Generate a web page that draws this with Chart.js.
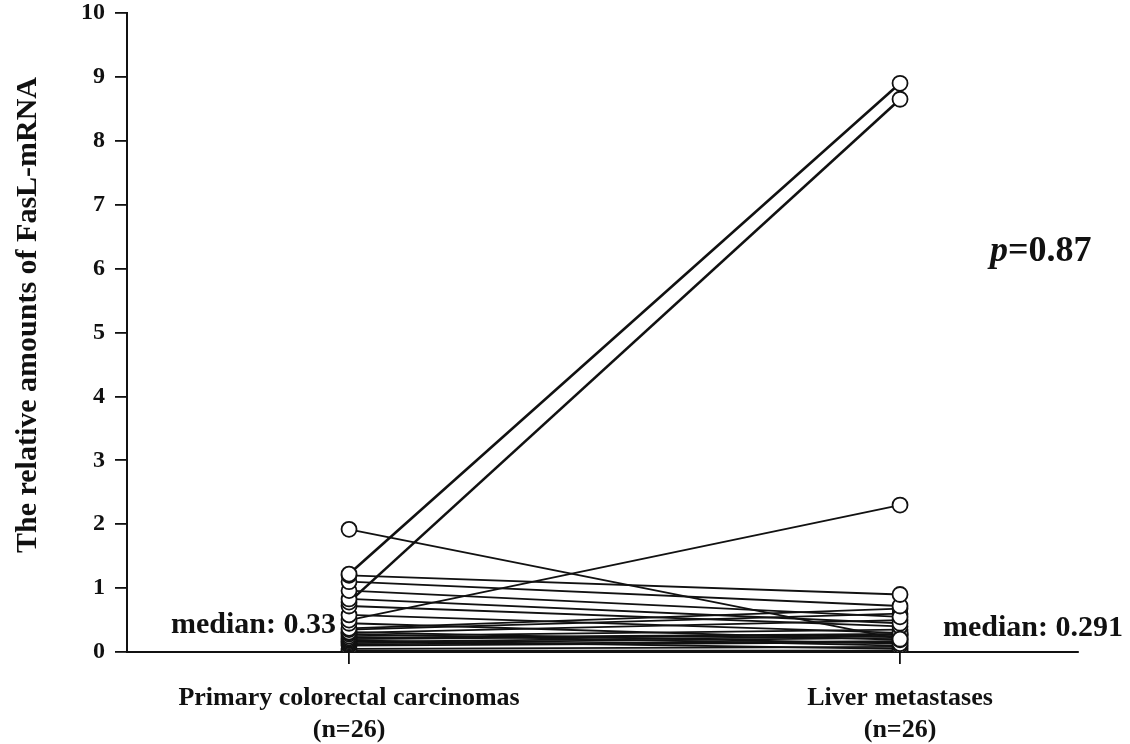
<!DOCTYPE html>
<html>
<head>
<meta charset="utf-8">
<script src="https://cdn.jsdelivr.net/npm/chart.js@4"></script>
<style>
  html, body { margin: 0; padding: 0; background: #fff; }
  #wrap { width: 1130px; height: 744px; position: relative; }
</style>
</head>
<body>
<div id="wrap"><canvas id="c"></canvas></div>
<script>
const CATEGORIES = [["Primary colorectal carcinomas", "(n=26)"], ["Liver metastases", "(n=26)"]];
const Y_TICKS = [0, 1, 2, 3, 4, 5, 6, 7, 8, 9, 10];
// paired samples: primaryValues[i] -> liverValues[i]
const primaryValues = [1.92, 1.22, 1.20, 1.10, 0.96, 0.83, 0.78, 0.72, 0.58, 0.50, 0.45, 0.37, 0.35,
  0.31, 0.30, 0.28, 0.25, 0.22, 0.20, 0.18, 0.16, 0.14, 0.12, 0.10, 0.05, 0.02];
const liverValues = [0.20, 8.90, 0.90, 0.72, 0.55, 0.45, 8.65, 0.40, 0.30, 2.30, 0.19, 0.68, 0.60,
  0.13, 0.50, 0.10, 0.35, 0.282, 0.27, 0.05, 0.25, 0.22, 0.17, 0.15, 0.08, 0.02];
const MEDIANS = [0.33, 0.291];
const P_TEXT = "0.87";

const FONT = "'Liberation Serif', 'Times New Roman', serif";
Chart.defaults.font.family = FONT;
Chart.defaults.color = "#111";

const datasets = primaryValues.map((p, i) => ({
  data: [{ x: 0, y: p }, { x: 1, y: liverValues[i] }],
  borderColor: "#111",
  borderWidth: liverValues[i] > 5 ? 2.6 : 1.8,
  pointRadius: 7.5,
  pointBackgroundColor: "#fff",
  pointBorderColor: "#111",
  pointBorderWidth: 1.8,
  tension: 0,
}));

const annotations = {
  id: "annotations",
  afterDraw(chart) {
    const { ctx, scales: { x, y } } = chart;
    ctx.save();
    ctx.fillStyle = "#111";
    ctx.textBaseline = "middle";
    ctx.font = `bold 30px ${FONT}`;
    ctx.textAlign = "right";
    ctx.fillText(`median: ${MEDIANS[0]}`, x.getPixelForValue(0) - 13, y.getPixelForValue(MEDIANS[0]) - 6);
    ctx.textAlign = "left";
    ctx.fillText(`median: ${MEDIANS[1]}`, x.getPixelForValue(1) + 43, y.getPixelForValue(MEDIANS[1]) - 5);
    // p value
    ctx.font = `italic bold 36px ${FONT}`;
    const px = 990, py = 252;
    ctx.fillText("p", px, py);
    const w = ctx.measureText("p").width;
    ctx.font = `bold 36px ${FONT}`;
    ctx.fillText(`=${P_TEXT}`, px + w, py);
    // y title
    ctx.translate(28, 315);
    ctx.rotate(-Math.PI / 2);
    ctx.textAlign = "center";
    ctx.font = `bold 30px ${FONT}`;
    ctx.fillText("The relative amounts of FasL-mRNA", 0, 0);
    ctx.restore();
  },
};

new Chart(document.getElementById("c"), {
  type: "line",
  data: { datasets },
  plugins: [annotations],
  options: {
    responsive: true,
    maintainAspectRatio: false,
    animation: false,
    layout: { padding: { top: 13, right: 52, left: 0, bottom: 0 } },
    plugins: { legend: { display: false }, tooltip: { enabled: false } },
    scales: {
      x: {
        type: "linear",
        min: -0.403,
        max: 1.323,
        afterBuildTicks: (s) => { s.ticks = [{ value: 0 }, { value: 1 }]; },
        afterFit: (s) => { s.height = 92; s.paddingLeft = 0; s.paddingRight = 0; },
        ticks: {
          callback: (v) => CATEGORIES[v] || "",
          font: { size: 26, weight: "bold", lineHeight: 1.2 },
          color: "#111",
          padding: 19,
          maxRotation: 0,
          autoSkip: false,
        },
        grid: { drawOnChartArea: false, tickLength: 12, color: "#111", lineWidth: 1.8 },
        border: { color: "#111", width: 2 },
      },
      y: {
        min: 0,
        max: 10,
        afterBuildTicks: (s) => { s.ticks = Y_TICKS.map((v) => ({ value: v })); },
        afterFit: (s) => { s.width = 127; s.paddingTop = 0; s.paddingBottom = 0; },
        ticks: {
          font: { size: 24, weight: "bold" },
          color: "#111",
          padding: 10,
        },
        grid: { drawOnChartArea: false, tickLength: 12, color: "#111", lineWidth: 1.8 },
        border: { color: "#111", width: 2 },
      },
    },
  },
});
</script>
</body>
</html>
